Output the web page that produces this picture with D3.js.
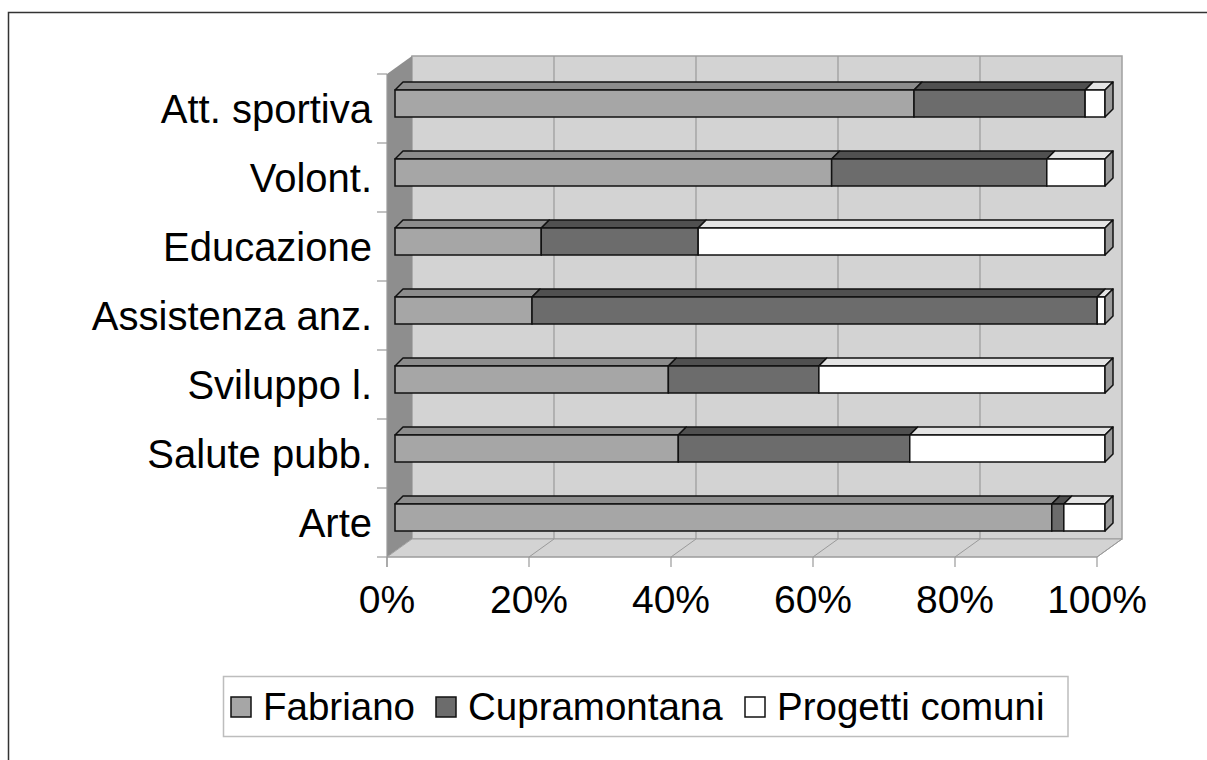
<!DOCTYPE html>
<html>
<head>
<meta charset="utf-8">
<script src="https://cdn.jsdelivr.net/npm/d3@7"></script>
<style>
    body { margin: 0; background: #fff; }
    svg text { font-family: "Liberation Sans", Arial, sans-serif; fill: #000; }
</style>
</head>
<body>
<div id="scene"></div>
<script>
// data (percent of each row)
const categories = ['Att. sportiva', 'Volont.', 'Educazione', 'Assistenza anz.', 'Sviluppo l.', 'Salute pubb.', 'Arte'];
const fabriano = [73.1, 61.5, 20.6, 19.3, 38.5, 39.9, 92.5];
const cupramontana = [24.1, 30.3, 22.1, 79.6, 21.2, 32.6, 1.7];
const progettiComuni = [2.8, 8.2, 57.3, 1.1, 40.3, 27.5, 5.8];
const seriesNames = ['Fabriano', 'Cupramontana', 'Progetti comuni'];
const tickValues = [0, 20, 40, 60, 80, 100];

const width = 1207;
const height = 760;

// colours: front, top, side
const seriesColors = [
    { front: '#a6a6a6', top: '#8c8c8c', side: '#8c8c8c' },
    { front: '#6c6c6c', top: '#505050', side: '#505050' },
    { front: '#ffffff', top: '#e4e4e4', side: '#9a9a9a' },
];

const svg = d3.select('#scene')
    .append('svg')
    .attr('width', width)
    .attr('height', height);

// outer frame (runs off the right and bottom edge)
svg.append('rect')
    .attr('x', 8.5).attr('y', 12.5)
    .attr('width', 1300).attr('height', 900)
    .attr('fill', 'none')
    .attr('stroke', '#333')
    .attr('stroke-width', 1.5);

// geometry of the 3d box
const depthX = 25;
const depthY = 18;
const axisLeft = 387;
const axisRight = 1097;
const floorFront = 557;
const plotTop = 74;

const xScale = d3.scaleLinear().domain([0, 100]).range([axisLeft, axisRight]);
const barScale = d3.scaleLinear().domain([0, 100]).range([axisLeft + 8, axisRight + 8]);
const yScale = d3.scaleBand().domain(categories).range([plotTop, floorFront]);

const wallTop = plotTop - depthY;
const wallBottom = floorFront - depthY;

// back wall
svg.append('rect')
    .attr('x', xScale(0) + depthX)
    .attr('y', wallTop)
    .attr('width', xScale(100) - xScale(0))
    .attr('height', wallBottom - wallTop)
    .attr('fill', '#d3d3d3')
    .attr('stroke', '#a0a0a0')
    .attr('stroke-width', 1.5);

// side wall
svg.append('polygon')
    .attr('points', [
        [axisLeft, plotTop], [axisLeft + depthX, wallTop],
        [axisLeft + depthX, wallBottom], [axisLeft, floorFront]
    ].join(' '))
    .attr('fill', '#8e8e8e');

// floor
svg.append('polygon')
    .attr('points', [
        [axisLeft, floorFront], [axisLeft + depthX, wallBottom],
        [axisRight + depthX, wallBottom], [axisRight, floorFront]
    ].join(' '))
    .attr('fill', '#d3d3d3')
    .attr('stroke', '#a0a0a0')
    .attr('stroke-width', 1);

// gridlines on wall and floor
svg.selectAll('.wallGrid')
    .data(tickValues.slice(1, -1))
    .enter().append('line')
    .attr('class', 'wallGrid')
    .attr('x1', d => xScale(d) + depthX)
    .attr('x2', d => xScale(d) + depthX)
    .attr('y1', wallTop)
    .attr('y2', wallBottom)
    .attr('stroke', '#9a9a9a')
    .attr('stroke-width', 1.2);

svg.selectAll('.floorGrid')
    .data(tickValues.slice(1))
    .enter().append('line')
    .attr('class', 'floorGrid')
    .attr('x1', d => xScale(d) + depthX)
    .attr('y1', wallBottom)
    .attr('x2', d => xScale(d))
    .attr('y2', floorFront)
    .attr('stroke', '#9a9a9a')
    .attr('stroke-width', 1);

// axes lines and ticks
svg.append('line')
    .attr('x1', axisLeft).attr('x2', axisLeft)
    .attr('y1', plotTop).attr('y2', floorFront + 10)
    .attr('stroke', '#9a9a9a').attr('stroke-width', 1.2);

svg.append('line')
    .attr('x1', axisLeft).attr('x2', axisRight)
    .attr('y1', floorFront).attr('y2', floorFront)
    .attr('stroke', '#9a9a9a').attr('stroke-width', 1.2);

svg.selectAll('.xTicks')
    .data(tickValues)
    .enter().append('line')
    .attr('class', 'xTicks')
    .attr('x1', d => xScale(d)).attr('x2', d => xScale(d))
    .attr('y1', floorFront).attr('y2', floorFront + 10)
    .attr('stroke', '#9a9a9a').attr('stroke-width', 1.2);

const bandEdges = categories.map(c => yScale(c)).concat([floorFront]);
svg.selectAll('.yTicks')
    .data(bandEdges)
    .enter().append('line')
    .attr('class', 'yTicks')
    .attr('x1', axisLeft - 10).attr('x2', axisLeft)
    .attr('y1', d => d).attr('y2', d => d)
    .attr('stroke', '#9a9a9a').attr('stroke-width', 1.2);

svg.selectAll('.xLabel')
    .data(tickValues)
    .enter().append('text')
    .attr('class', 'xLabel')
    .attr('x', d => xScale(d))
    .attr('y', 613)
    .attr('text-anchor', 'middle')
    .style('font-size', '39px')
    .text(d => d + '%');

svg.selectAll('.yLabel')
    .data(categories)
    .enter().append('text')
    .attr('class', 'yLabel')
    .attr('x', 372)
    .attr('y', d => yScale(d) + yScale.bandwidth() / 2)
    .attr('dy', '0.36em')
    .attr('text-anchor', 'end')
    .style('font-size', '40px')
    .text(String);

// stacked 3d bars
const barDepth = 8;
const barOffset = 16;
const barHeight = 27;
const seriesValues = [fabriano, cupramontana, progettiComuni];

categories.forEach((cat, i) => {
    let start = 0;
    const yt = yScale(cat) + barOffset;
    const yb = yt + barHeight;
    const g = svg.append('g');
    seriesValues.forEach((values, s) => {
        const x0 = barScale(start);
        const x1 = barScale(start + values[i]);
        start += values[i];
        const col = seriesColors[s];
        g.append('polygon')
            .attr('points', [[x0, yt], [x0 + barDepth, yt - barDepth], [x1 + barDepth, yt - barDepth], [x1, yt]].join(' '))
            .attr('fill', col.top)
            .attr('stroke', '#111').attr('stroke-width', 1.5).attr('stroke-linejoin', 'round');
        g.append('rect')
            .attr('x', x0).attr('y', yt)
            .attr('width', x1 - x0).attr('height', barHeight)
            .attr('fill', col.front)
            .attr('stroke', '#111').attr('stroke-width', 1.5);
        if (s === seriesValues.length - 1) {
            g.append('polygon')
                .attr('points', [[x1, yt], [x1 + barDepth, yt - barDepth], [x1 + barDepth, yb - barDepth], [x1, yb]].join(' '))
                .attr('fill', col.side)
                .attr('stroke', '#111').attr('stroke-width', 1.5).attr('stroke-linejoin', 'round');
        }
    });
});

// legend
const legendTop = 676;
const legendHeight = 60;
const squareSize = 20;
const legendItemX = [231, 436, 745];
const legend = svg.append('g');
legend.append('rect')
    .attr('x', 223.5).attr('y', legendTop + 0.5)
    .attr('width', 1068 - 223.5).attr('height', legendHeight)
    .attr('fill', '#fff')
    .attr('stroke', '#bdbdbd').attr('stroke-width', 1.5);
seriesNames.forEach((name, s) => {
    const lx = legendItemX[s];
    legend.append('rect')
        .attr('x', lx).attr('y', legendTop + 21)
        .attr('width', squareSize).attr('height', squareSize)
        .attr('fill', seriesColors[s].front)
        .attr('stroke', '#111').attr('stroke-width', 1.5);
    legend.append('text')
        .attr('x', lx + squareSize + 12)
        .attr('y', legendTop + 44)
        .style('font-size', '38.5px')
        .text(name);
});
</script>
</body>
</html>
